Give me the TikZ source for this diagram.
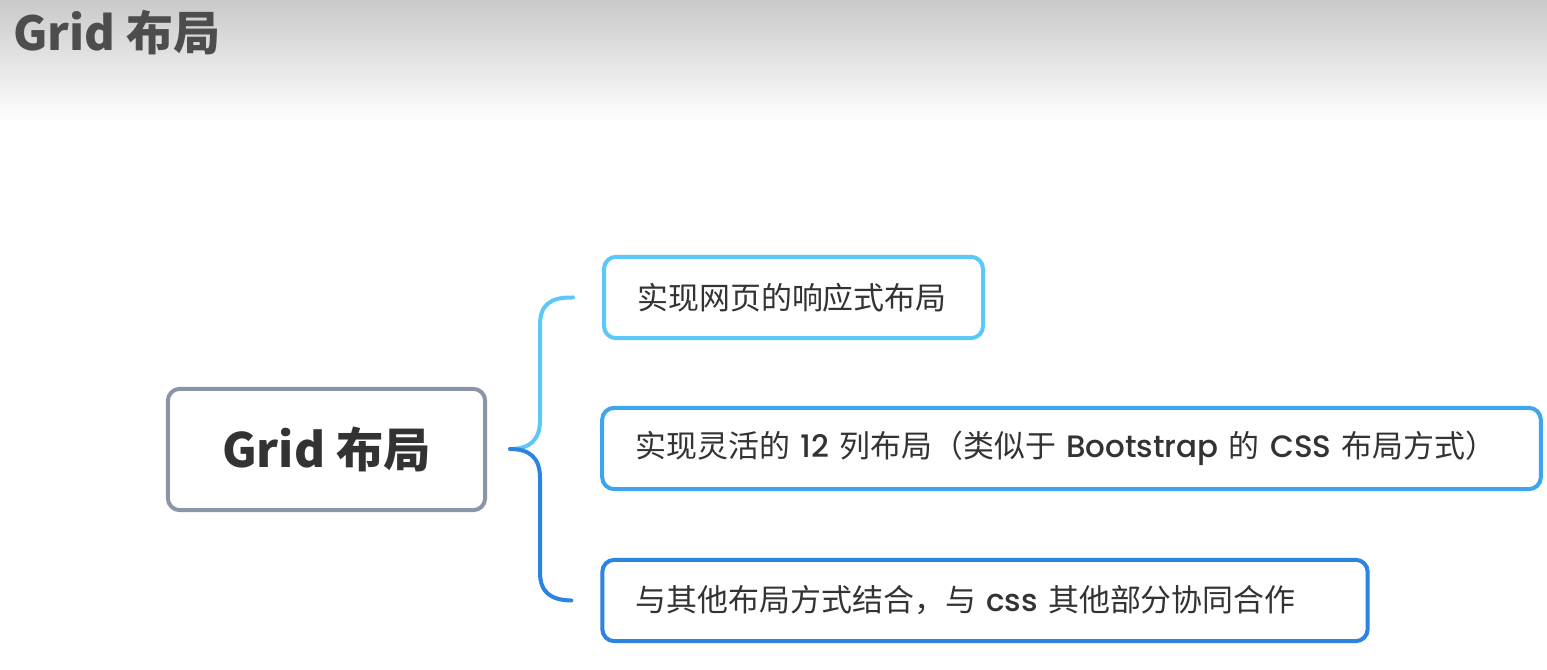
\documentclass[tikz,border=0pt]{standalone}
\usepackage{fontspec}
\setmainfont{Noto Sans CJK SC}
\newfontfamily\lat{Poppins}[UprightFont=* Medium]
\usetikzlibrary{shadings}
\definecolor{titlegray}{HTML}{4D4D4D}
\definecolor{txt}{HTML}{333333}
\definecolor{rootborder}{HTML}{8A95AA}
\definecolor{cA}{HTML}{5BC8F9}
\definecolor{cB}{HTML}{3BA5EF}
\definecolor{cC}{HTML}{2B84E0}
\tikzset{
  x=0.75pt, y=-0.75pt,
  rootbox/.style={draw=rootborder, line width=3pt, rounded corners=9pt, fill=white,
    minimum width=238pt, minimum height=91pt, inner sep=0pt, text=txt,
    font=\fontsize{35.5}{40}\selectfont\bfseries},
  leaf/.style={line width=3pt, rounded corners=9pt, fill=white, minimum height=61pt,
    inner xsep=25pt, inner ysep=0pt, align=left, text=txt,
    font=\fontsize{23.2}{26}\selectfont},
  branch/.style={line width=3pt, line cap=round}
}
\begin{document}
\begin{tikzpicture}
\useasboundingbox (0,0) rectangle (1547,670);
\fill[white] (0,0) rectangle (1547,670);
\shade[top color=black!21, bottom color=white] (0,0) rectangle (1547,122);
\node[anchor=west, text=titlegray, inner sep=0pt, font=\fontsize{35.2}{40}\selectfont\bfseries] (title) at (13,33) {Grid 布局};

\node[rootbox] (root) at (326.5,449.5) {Grid 布局};

\node[leaf, draw=cA, text width=234.25pt] (b1) at (793.5,297.5) {\mbox{实现网页的响应式布局}};
\node[leaf, draw=cB, text width=654pt] (b2) at (1071.5,448.5) {\mbox{实现灵活的 {\lat 12} 列布局（类似于 {\lat Bootstrap} 的 {\lat CSS} 布局方式）}};
\node[leaf, draw=cC, text width=524pt] (b3) at (985,600.5) {\mbox{与其他布局方式结合，与 {\lat css} 其他部分协同合作}};

\coordinate (fork) at (510,449);
\draw[branch, cA] (fork) .. controls (530,449) and (540,440) .. (540,420) -- (540,325)
  .. controls (540,305) and (550,297) .. ([xshift=-21.75pt]b1.west);
\draw[branch, cC] (fork) .. controls (530,449) and (540,458) .. (540,478) -- (540,572)
  .. controls (540,592) and (550,600) .. ([xshift=-21.75pt]b3.west);
\end{tikzpicture}
\end{document}
